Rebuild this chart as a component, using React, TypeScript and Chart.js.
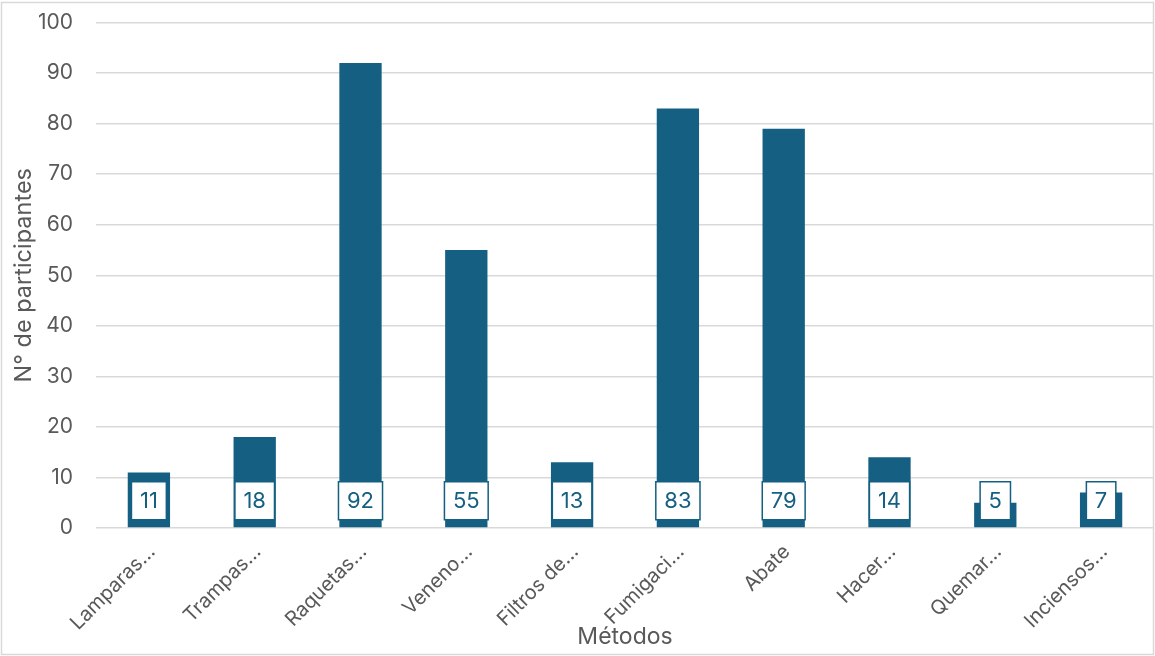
import React, { useEffect, useRef } from "react";
import { Chart, registerables } from "chart.js";

Chart.register(...registerables);

const categories = [
  "Lamparas…",
  "Trampas…",
  "Raquetas…",
  "Veneno…",
  "Filtros de…",
  "Fumigaci…",
  "Abate",
  "Hacer…",
  "Quemar…",
  "Inciensos…",
];
const values = [11, 18, 92, 55, 13, 83, 79, 14, 5, 7];
const yTicks = [0, 10, 20, 30, 40, 50, 60, 70, 80, 90, 100];
const xTitle = "Métodos";
const yTitle = "N° de participantes";

const BAR = "#156082";
const TEXT = "#595959";
const FONT = "Inter";

const borderPlugin = {
  id: "outerBorder",
  beforeDraw(chart: any) {
    const ctx = chart.ctx;
    ctx.save();
    ctx.fillStyle = "#ffffff";
    ctx.fillRect(0, 0, chart.width, chart.height);
    ctx.strokeStyle = "#d9d9d9";
    ctx.lineWidth = 1.5;
    ctx.strokeRect(1.5, 2.5, chart.width - 3, chart.height - 4);
    ctx.restore();
  },
};

const labelPlugin = {
  id: "baseLabels",
  afterDatasetsDraw(chart: any) {
    const ctx = chart.ctx;
    const meta = chart.getDatasetMeta(0);
    ctx.save();
    ctx.font = `22px ${FONT}`;
    meta.data.forEach((el: any, i: number) => {
      const txt = String(values[i]);
      const tw = ctx.measureText(txt).width;
      const w = Math.max(tw + 17, 28);
      const bottom = el.base - 7.5;
      const top = el.base - 45.5;
      ctx.fillStyle = "#ffffff";
      ctx.fillRect(el.x - w / 2, top, w, bottom - top);
      ctx.strokeStyle = BAR;
      ctx.lineWidth = 1.5;
      ctx.strokeRect(el.x - w / 2, top, w, bottom - top);
      ctx.fillStyle = BAR;
      ctx.textAlign = "center";
      ctx.textBaseline = "middle";
      ctx.fillText(txt, el.x, (top + bottom) / 2 + 1);
    });
    ctx.restore();
  },
};

export default function App() {
  const ref = useRef<HTMLCanvasElement | null>(null);
  useEffect(() => {
    document.body.style.margin = "0";
    const canvas = ref.current;
    if (!canvas) return;
    const chart = new Chart(canvas, {
      type: "bar",
      data: {
        labels: categories,
        datasets: [
          {
            data: values,
            backgroundColor: BAR,
            barPercentage: 0.8,
            categoryPercentage: 0.5,
          },
        ],
      },
      options: {
        responsive: false,
        animation: false,
        devicePixelRatio: 1,
        layout: { padding: { left: 8, right: 1, top: 22.5, bottom: 5 } },
        plugins: {
          legend: { display: false },
          tooltip: { enabled: false },
        },
        scales: {
          x: {
            grid: { display: false },
            border: { display: false },
            ticks: {
              color: TEXT,
              font: { family: FONT, size: 20 },
              minRotation: 45,
              maxRotation: 45,
              padding: 4,
              labelOffset: 3,
              autoSkip: false,
            },
            title: {
              display: true,
              text: xTitle,
              color: TEXT,
              font: { family: FONT, size: 23 },
              padding: 0,
            },
            afterFit(scale: any) {
              scale.height = 123;
              scale.paddingLeft = 0;
              scale.paddingRight = 0;
              scale.paddingTop = 0;
              scale.paddingBottom = 0;
            },
          },
          y: {
            min: 0,
            max: 100,
            afterBuildTicks(scale: any) {
              scale.ticks = yTicks.map((v) => ({ value: v }));
            },
            grid: { color: "#d9d9d9", lineWidth: 1.5, drawTicks: false },
            border: { display: false },
            ticks: {
              color: TEXT,
              font: { family: FONT, size: 21 },
              padding: 23,
            },
            title: {
              display: true,
              text: yTitle,
              color: TEXT,
              font: { family: FONT, size: 23.5 },
              padding: { top: 2, bottom: 0 },
            },
            afterFit(scale: any) {
              scale.width = 88;
              scale.paddingLeft = 0;
              scale.paddingRight = 0;
              scale.paddingTop = 0;
              scale.paddingBottom = 0;
            },
          },
        },
      },
      plugins: [borderPlugin, labelPlugin],
    });
    return () => chart.destroy();
  }, []);
  return (
    <div style={{ width: 1155, height: 656 }}>
      <canvas ref={ref} width={1155} height={656} style={{ display: "block" }} />
    </div>
  );
}
